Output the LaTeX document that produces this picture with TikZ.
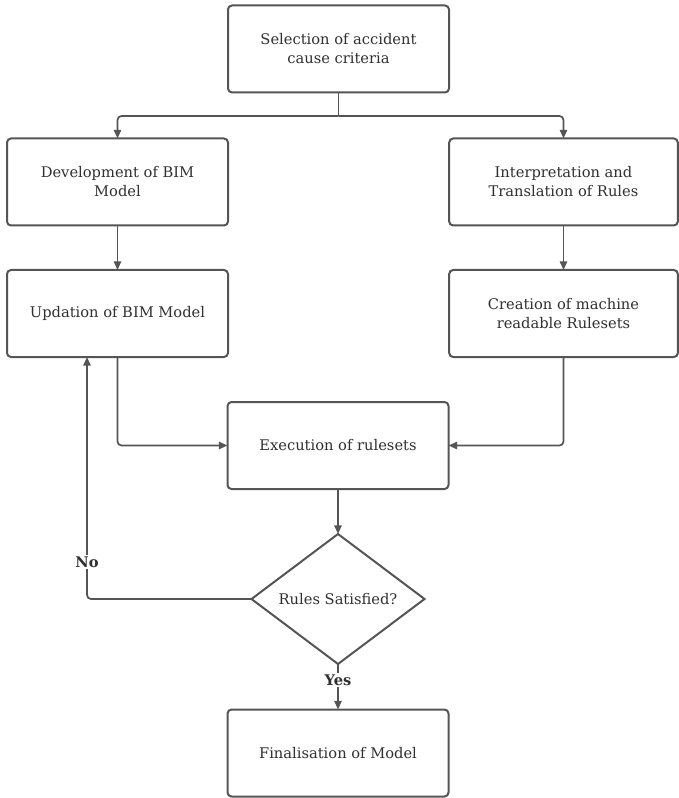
\documentclass[tikz,border=0pt]{standalone}
\usepackage{fontspec}
\setmainfont{DejaVu Serif}
\usetikzlibrary{arrows.meta,shapes.geometric}
\definecolor{ink}{HTML}{303030}
\definecolor{wire}{HTML}{555555}
\begin{document}
\begin{tikzpicture}[x=0.75pt,y=-0.75pt,
  every node/.style={text=ink,font=\fontsize{11}{14.25}\selectfont,align=center},
  stepbox/.style={draw=wire,line width=1.5pt,rounded corners=3pt,fill=white,
    minimum width=165.75pt,minimum height=65.25pt,inner sep=0pt,outer sep=0pt},
  widebox/.style={stepbox,minimum width=171.5pt},
  choice/.style={draw=wire,line width=1.5pt,diamond,shape aspect=1.33,
    minimum width=129.75pt,minimum height=97.5pt,inner sep=0pt,outer sep=0pt},
  conn/.style={draw=wire,line width=1.3pt,rounded corners=3pt},
  flow/.style={conn,-{Triangle[length=6.5pt,width=5.5pt]}},
  tag/.style={fill=white,inner sep=1.5pt,font=\fontsize{11}{13}\selectfont\bfseries}]
\useasboundingbox (0,0) rectangle (678,798);

% process boxes
\node[stepbox] (sel) at (338.5,49)  {Selection of accident\\cause criteria};
\node[stepbox] (dev) at (117.5,182) {Development of BIM\\Model};
\node[widebox] (int) at (563.5,182) {Interpretation and\\Translation of Rules};
\node[stepbox] (upd) at (117.5,313.5) {Updation of BIM Model};
\node[widebox] (cre) at (563.5,313.5) {Creation of machine\\readable Rulesets};
\node[stepbox] (exe) at (338,445.5) {Execution of rulesets};
\node[choice]  (dia) at (338,599)   {Rules Satisfied?};
\node[stepbox] (fin) at (338,753)   {Finalisation of Model};

% split from the first step
\coordinate (fork) at (338.5,116);
\draw[conn] (sel.south) -- (fork);
\draw[flow] (fork) -| (dev.north);
\draw[flow] (fork) -| (int.north);

% two parallel branches
\draw[flow] (dev.south) -- (upd.north);
\draw[flow] (int.south) -- (cre.north);

% merge into execution
\draw[flow] (upd.south) |- (exe.west);
\draw[flow] (cre.south) |- (exe.east);
\draw[flow] (exe.south) -- (dia.north);

% decision outcomes
\coordinate (back) at (87,357);
\draw[flow] (dia.west) -| (back);
\node[tag] (no) at (87,562) {No};
\draw[flow] (dia.south) -- (fin.north);
\node[tag] (yes) at (338,680) {Yes};
\end{tikzpicture}
\end{document}
